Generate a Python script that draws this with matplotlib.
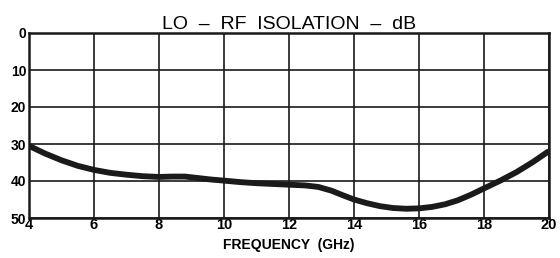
import matplotlib.pyplot as plt

freq = [4, 4.5, 5, 5.5, 6, 6.5, 7, 7.5, 8, 8.4, 8.8, 9.2, 9.6, 10, 10.5, 11, 11.5, 12, 12.5, 12.9, 13.3, 13.7, 14, 14.4, 14.8, 15.2, 15.6, 16, 16.4, 16.8, 17.2, 17.6, 18, 18.5, 19, 19.5, 20]
isolation = [30.5, 32.6, 34.4, 35.9, 37.0, 37.8, 38.3, 38.7, 38.9, 38.8, 38.8, 39.2, 39.6, 39.9, 40.3, 40.6, 40.8, 41.0, 41.2, 41.6, 42.6, 44.0, 45.0, 46.0, 46.8, 47.3, 47.5, 47.4, 47.0, 46.3, 45.2, 43.7, 42.0, 39.9, 37.6, 34.9, 31.9]

x_ticks = [4, 6, 8, 10, 12, 14, 16, 18, 20]
y_ticks = [0, 10, 20, 30, 40, 50]

plt.rcParams['font.family'] = ['Liberation Sans', 'DejaVu Sans']

fig = plt.figure(figsize=(5.6, 2.58), dpi=100)
ax = fig.add_axes([29 / 560, 40 / 258, 520 / 560, 185 / 258])

ax.plot(freq, isolation, color='#1a1a1a', linewidth=4.2, solid_capstyle='butt', solid_joinstyle='round')

ax.set_xlim(4, 20)
ax.set_ylim(50, 0)
ax.set_xticks(x_ticks)
ax.set_yticks(y_ticks)
ax.set_xticklabels([str(t) for t in x_ticks], fontweight='bold', fontsize=10.5)
ax.set_yticklabels([str(t) for t in y_ticks], fontweight='bold', fontsize=10)
ax.tick_params(length=0, pad=2)
ax.tick_params(axis='x', pad=0)
ax.grid(True, color='#1a1a1a', linewidth=1.2)
for s in ax.spines.values():
    s.set_linewidth(1.8)
    s.set_color('#1a1a1a')

ax.set_title("LO  \u2013  RF  ISOLATION  \u2013  dB", fontsize=14, pad=3)
ax.set_xlabel("FREQUENCY  (GHz)", fontweight='bold', fontsize=10, labelpad=4)

fig.savefig('out.png', dpi=100)
